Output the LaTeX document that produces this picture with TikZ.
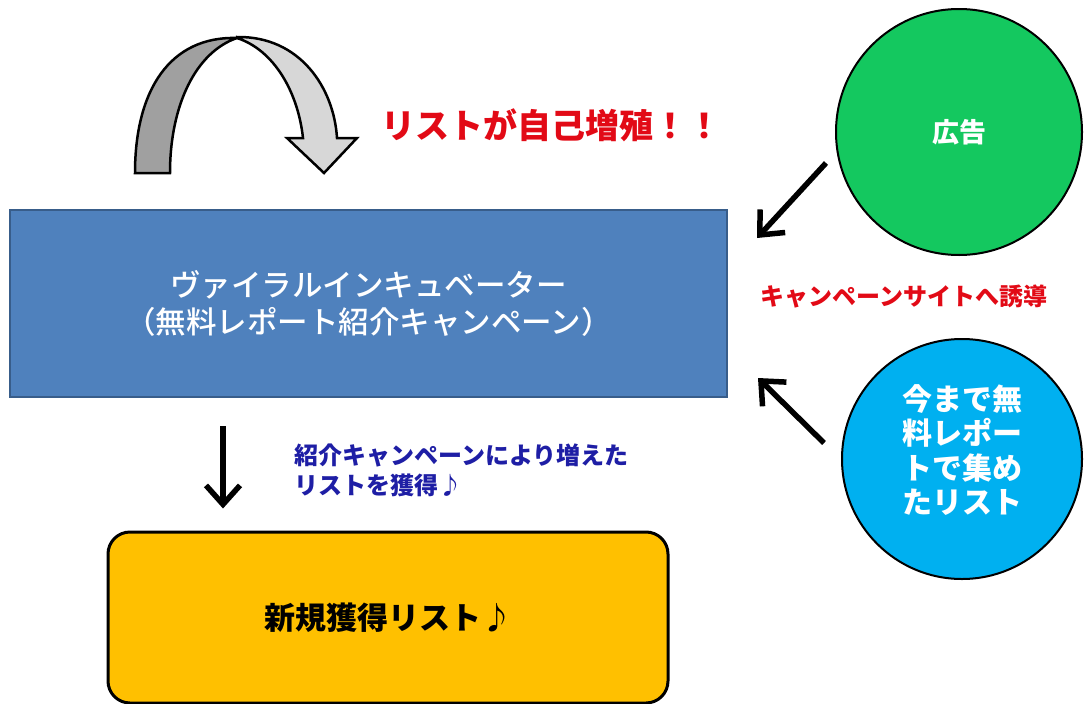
\documentclass[tikz,border=0pt]{standalone}
\usepackage{fontspec}
\setmainfont{Noto Sans CJK JP}
\newfontfamily\jpmedio{Noto Sans CJK JP Medium}
\usetikzlibrary{arrows.meta}

\definecolor{azulcaja}{RGB}{79,129,189}
\definecolor{bordecaja}{RGB}{56,93,138}
\definecolor{verdead}{RGB}{20,200,95}
\definecolor{celeste}{RGB}{0,176,240}
\definecolor{amarillo}{RGB}{255,192,0}
\definecolor{rojotexto}{RGB}{226,10,22}
\definecolor{azultexto}{RGB}{30,30,165}
\definecolor{grisoscuro}{RGB}{160,160,160}
\definecolor{grisclaro}{RGB}{215,215,215}

\tikzset{
  flecha/.style={line width=5.5pt, -{Straight Barb[length=19pt,width=34pt]}},
  circulo/.style={circle, draw=black, line width=2pt, inner sep=0pt}
}

\begin{document}
\begin{tikzpicture}[x=1pt,y=-1pt]
        \useasboundingbox (0,0) rectangle (1087,704);

        % Flecha curva (lista que crece sola)
        \draw[line width=2.5pt, fill=grisoscuro] (135,173) -- (170,173)
              .. controls (170,105) and (196,52) .. (237,38)
              .. controls (170,36) and (135,90) .. (135,173) -- cycle;
        \draw[line width=2.5pt, fill=grisclaro] (237,37)
              .. controls (300,36) and (334,88) .. (337,138)
              -- (357,138) -- (324,173) -- (287,138) -- (303,138)
              .. controls (298,92) and (274,50) .. (237,38) -- cycle;
        \node[text=rojotexto, font=\bfseries\fontsize{34}{40}\selectfont] (titulo) at (551,125) {リストが自己増殖！！};

        % Caja principal
        \node[fill=azulcaja, draw=bordecaja, line width=2pt, minimum width=717pt, minimum height=187pt,
              inner sep=0pt, text=white, align=center, font=\jpmedio\fontsize{30.5}{37}\selectfont] (viral) at (368.5,303.5)
              {ヴァイラルインキュベーター\\（無料レポート紹介キャンペーン）};

        % Circulos de entrada
        \node[circulo, fill=verdead, minimum size=246pt, text=white, font=\bfseries\fontsize{27}{34}\selectfont] (ad) at (959,132) {広告};
        \node[circulo, fill=celeste, minimum size=240pt] (lista) at (962,459) {};
        \node[text=white, align=center, font=\bfseries\fontsize{30}{34.5}\selectfont] (listatexto)
              at ([yshift=9pt]lista.center) {今まで無\\料レポー\\トで集め\\たリスト};
        \node[text=rojotexto, font=\bfseries\fontsize{24}{28}\selectfont] (guia) at (904,297) {キャンペーンサイトへ誘導};

        \coordinate (adsale) at (826,163);
        \coordinate (adllega) at (757,238);
        \coordinate (lsale) at (824,443);
        \coordinate (lllega) at (758,378);
        \draw[flecha] (adsale) -- (adllega);
        \draw[flecha] (lsale) -- (lllega);

        % Resultado
        \node[fill=amarillo, draw=black, line width=3pt, rounded corners=22pt, minimum width=560pt,
              minimum height=171pt, font=\bfseries\fontsize{31}{36}\selectfont] (nueva) at (388,617.5) {新規獲得リスト♪};
        \coordinate (bajada) at (223,380);
        \draw[flecha, shorten <=28pt, shorten >=22pt] (viral.south -| bajada) -- (nueva.north -| bajada);
        \node[anchor=west, align=left, text=azultexto, font=\bfseries\fontsize{24}{30}\selectfont] (nota) at (291,470)
              {紹介キャンペーンにより増えた\\リストを獲得♪};
    \end{tikzpicture}
\end{document}
